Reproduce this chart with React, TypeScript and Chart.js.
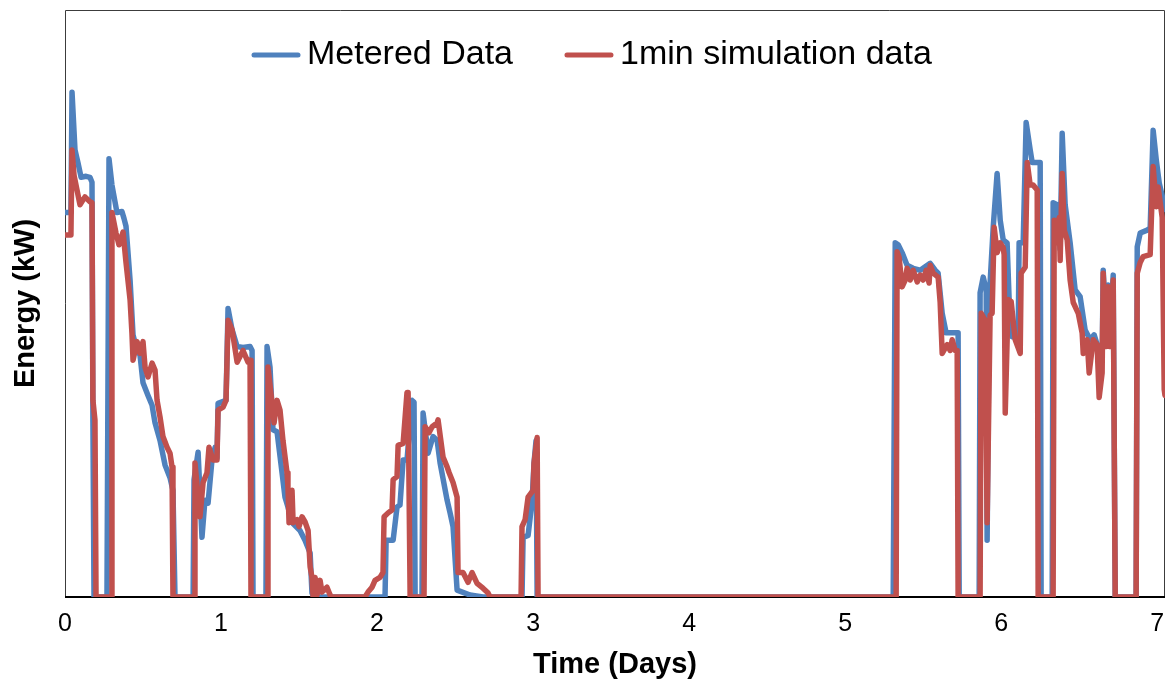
import React, { useEffect, useRef } from "react";
import { Chart, registerables } from "chart.js";

Chart.register(...registerables);

// Time in days, energy in kW
const meteredDays = [
  0, 0.038, 0.045, 0.064, 0.083, 0.103, 0.135, 0.16, 0.173, 0.179, 0.186,
  0.269, 0.282, 0.301, 0.333, 0.365, 0.378, 0.391, 0.417, 0.436, 0.455, 0.481, 0.5, 0.532, 0.558, 0.577, 0.609, 0.641, 0.673, 0.692, 0.705,
  0.821, 0.827, 0.853, 0.878, 0.897, 0.917, 0.942, 0.962, 0.974, 0.981, 1.032, 1.045, 1.071, 1.103, 1.141, 1.186, 1.199, 1.205,
  1.288, 1.295, 1.314, 1.333, 1.359, 1.391, 1.41, 1.429, 1.455, 1.506, 1.538, 1.571, 1.583, 1.596,
  2.051, 2.058, 2.103, 2.128, 2.147, 2.167, 2.192, 2.224, 2.237, 2.244,
  2.288, 2.295, 2.327, 2.359, 2.385, 2.404, 2.449, 2.468, 2.487, 2.513, 2.596, 2.679,
  2.929, 2.936, 2.968, 2.994, 3.006, 3.019, 3.026,
  5.308, 5.321, 5.34, 5.365, 5.397, 5.436, 5.481, 5.545, 5.577, 5.596, 5.622, 5.647, 5.724, 5.731,
  5.859, 5.865, 5.885, 5.904, 5.91, 5.923, 5.949, 5.974, 5.994, 6.013, 6.038, 6.051, 6.071, 6.109, 6.115, 6.141, 6.16, 6.186, 6.199, 6.25, 6.256,
  6.327, 6.333, 6.359, 6.378, 6.391, 6.41, 6.442, 6.474, 6.506, 6.538, 6.571, 6.596, 6.615, 6.628, 6.647, 6.654, 6.673, 6.686, 6.699, 6.718, 6.731,
  6.865, 6.872, 6.891, 6.936, 6.955, 6.974, 6.994, 7.013, 7.038, 7.05,
];
const meteredKW = [
  3.93, 3.93, 5.16, 4.57, 4.44, 4.29, 4.3, 4.29, 4.24, 1.78, 0,
  0, 4.48, 4.21, 3.93, 3.94, 3.87, 3.79, 3.24, 2.68, 2.56, 2.47, 2.19, 2.06, 1.96, 1.78, 1.6, 1.35, 1.22, 1.09, 0,
  0, 1.2, 1.48, 0.61, 0.99, 0.96, 1.4, 1.53, 1.42, 1.98, 2.01, 2.95, 2.73, 2.56, 2.55, 2.56, 2.52, 0,
  0, 2.56, 2.35, 1.71, 1.69, 1.27, 1.02, 0.92, 0.76, 0.68, 0.58, 0.45, 0.04, 0,
  0, 0.58, 0.58, 0.92, 0.94, 1.4, 1.4, 2.01, 1.99, 0,
  0, 1.88, 1.47, 1.64, 1.6, 1.37, 0.99, 0.86, 0.72, 0.07, 0.02, 0,
  0, 0.61, 0.63, 0.99, 1.37, 1.6, 0,
  0, 3.62, 3.6, 3.52, 3.39, 3.36, 3.34, 3.41, 3.34, 3.31, 2.9, 2.7, 2.7, 0,
  0, 3.11, 3.27, 3.14, 0.58, 3.04, 3.78, 4.33, 3.85, 3.65, 3.62, 3.04, 2.66, 2.65, 3.62, 3.62, 4.85, 4.57, 4.44, 4.44, 0,
  0, 4.03, 4.01, 3.55, 4.74, 4.01, 3.62, 3.14, 3.07, 2.73, 2.63, 2.68, 2.58, 2.32, 2.42, 3.34, 2.73, 3.19, 2.73, 3.29, 0,
  0, 3.58, 3.72, 3.75, 3.77, 4.77, 4.47, 4.23, 4.06, 3.96,
];

const simDays = [
  0, 0.038, 0.045, 0.058, 0.077, 0.096, 0.128, 0.16, 0.173, 0.179, 0.192, 0.199,
  0.295, 0.301, 0.327, 0.346, 0.372, 0.391, 0.417, 0.429, 0.436, 0.462, 0.481, 0.5, 0.513, 0.532, 0.558, 0.577, 0.59, 0.609, 0.628, 0.654, 0.673, 0.686, 0.692,
  0.827, 0.833, 0.865, 0.885, 0.91, 0.923, 0.949, 0.974, 0.981, 1.013, 1.032, 1.045, 1.071, 1.103, 1.141, 1.173, 1.186, 1.192,
  1.295, 1.301, 1.327, 1.34, 1.359, 1.378, 1.397, 1.423, 1.429, 1.436, 1.455, 1.462, 1.487, 1.5, 1.519, 1.538, 1.558, 1.571, 1.583, 1.59, 1.603, 1.615, 1.635, 1.647, 1.679, 1.699, 1.705,
  1.923, 1.942, 1.968, 1.987, 2.019, 2.038, 2.045, 2.071, 2.096, 2.103, 2.128, 2.135, 2.167, 2.192, 2.199, 2.212,
  2.301, 2.308, 2.333, 2.353, 2.385, 2.391, 2.423, 2.449, 2.462, 2.487, 2.513, 2.519, 2.551, 2.583, 2.609, 2.641, 2.679, 2.712, 2.724,
  2.923, 2.929, 2.949, 2.968, 3.0, 3.006, 3.026, 3.032,
  5.327, 5.333, 5.346, 5.365, 5.385, 5.397, 5.417, 5.436, 5.462, 5.481, 5.5, 5.519, 5.538, 5.545, 5.564, 5.596, 5.609, 5.622, 5.654, 5.673, 5.686, 5.705, 5.718, 5.724,
  5.865, 5.872, 5.897, 5.91, 5.929, 5.942, 5.955, 5.974, 5.994, 6.013, 6.019, 6.026, 6.045, 6.064, 6.09, 6.122, 6.128, 6.154, 6.167, 6.186, 6.205, 6.231, 6.237,
  6.333, 6.34, 6.359, 6.372, 6.378, 6.391, 6.404, 6.423, 6.442, 6.462, 6.494, 6.519, 6.526, 6.551, 6.564, 6.59, 6.615, 6.628, 6.647, 6.654, 6.673, 6.686, 6.699, 6.718, 6.731,
  6.865, 6.872, 6.891, 6.91, 6.955, 6.974, 6.994, 7.006, 7.032, 7.045, 7.05,
];
const simKW = [
  3.7, 3.7, 4.57, 4.31, 4.16, 4.01, 4.09, 4.04, 4.03, 2.01, 1.81, 0,
  0, 3.93, 3.72, 3.6, 3.73, 3.42, 3.04, 2.7, 2.42, 2.61, 2.49, 2.61, 2.35, 2.25, 2.39, 2.32, 2.01, 1.84, 1.64, 1.53, 1.47, 1.33, 0,
  0, 1.37, 0.82, 1.17, 1.27, 1.53, 1.4, 1.4, 1.91, 1.94, 2.01, 2.83, 2.73, 2.4, 2.52, 2.4, 2.42, 0,
  0, 2.35, 1.98, 1.78, 2.01, 1.91, 1.6, 1.27, 1.12, 0.76, 1.09, 0.76, 0.79, 0.72, 0.82, 0.77, 0.68, 0.31, 0.2, 0, 0.2, 0.02, 0.17, 0.05, 0.1, 0.02, 0,
  0, 0.05, 0.1, 0.17, 0.2, 0.25, 0.82, 0.86, 0.89, 1.2, 1.23, 1.55, 1.57, 2.09, 2.09, 0,
  0, 1.74, 1.68, 1.74, 1.78, 1.81, 1.43, 1.33, 1.27, 1.17, 1.02, 0.25, 0.25, 0.15, 0.25, 0.14, 0.09, 0.04, 0,
  0, 0.72, 0.79, 1.02, 1.09, 1.37, 1.63, 0,
  0, 3.53, 3.47, 3.17, 3.24, 3.36, 3.24, 3.34, 3.22, 3.29, 3.24, 3.34, 3.21, 3.39, 3.31, 3.27, 3.01, 2.49, 2.58, 2.52, 2.63, 2.52, 2.52, 0,
  0, 2.9, 2.83, 0.76, 2.88, 2.9, 3.78, 3.52, 3.62, 3.57, 3.5, 1.88, 3.04, 3.02, 2.63, 2.49, 3.31, 3.37, 4.44, 4.21, 4.21, 4.16, 0,
  0, 3.85, 3.62, 3.88, 3.44, 4.33, 3.75, 3.65, 3.24, 3.01, 2.9, 2.7, 2.49, 2.63, 2.29, 2.63, 2.58, 2.04, 2.29, 3.31, 2.56, 3.17, 2.56, 3.24, 0,
  0, 3.31, 3.42, 3.48, 3.5, 4.4, 3.99, 4.19, 3.88, 2.12, 2.06,
];

const xTickValues = [0, 1, 2, 3, 4, 5, 6, 7];
const seriesNames = ["Metered Data", "1min simulation data"];
const seriesColors = ["#4F81BD", "#C0504D"];
const xTitle = "Time (Days)";
const yTitle = "Energy (kW)";

const FONT = "'Liberation Sans', Arial, Helvetica, sans-serif";

export default function App() {
  const ref = useRef<HTMLCanvasElement>(null);

  useEffect(() => {
    if (!ref.current) return;

    const framePlugin = {
      id: "plotFrame",
      beforeDatasetsDraw(chart: any) {
        const { ctx, chartArea: a } = chart;
        ctx.save();
        ctx.strokeStyle = "#3c3c3c";
        ctx.lineWidth = 1;
        ctx.beginPath();
        ctx.moveTo(a.left + 0.5, a.bottom);
        ctx.lineTo(a.left + 0.5, a.top + 0.5);
        ctx.lineTo(a.right - 0.5, a.top + 0.5);
        ctx.lineTo(a.right - 0.5, a.bottom);
        ctx.stroke();
        ctx.strokeStyle = "#000";
        ctx.lineWidth = 2;
        ctx.beginPath();
        ctx.moveTo(a.left, a.bottom);
        ctx.lineTo(a.right, a.bottom);
        ctx.stroke();
        ctx.restore();
      },
    };

    const legendPlugin = {
      id: "insideLegend",
      afterDraw(chart: any) {
        const { ctx, chartArea: a } = chart;
        ctx.save();
        ctx.font = `34px ${FONT}`;
        ctx.textBaseline = "middle";
        ctx.textAlign = "left";
        const y = a.top + 45;
        let x = a.left + 187;
        seriesNames.forEach((name, i) => {
          ctx.strokeStyle = seriesColors[i];
          ctx.lineWidth = 5;
          ctx.lineCap = "round";
          ctx.beginPath();
          ctx.moveTo(x + 2, y);
          ctx.lineTo(x + 46, y);
          ctx.stroke();
          ctx.fillStyle = "#000";
          ctx.fillText(name, x + 55, y);
          x += 55 + ctx.measureText(name).width + 52;
        });
        ctx.restore();
      },
    };

    const chart = new Chart(ref.current, {
      type: "line",
      data: {
        datasets: [
          {
            label: seriesNames[0],
            data: meteredDays.map((d, i) => ({ x: d, y: meteredKW[i] })),
            borderColor: seriesColors[0],
            backgroundColor: seriesColors[0],
            borderWidth: 5.5,
            pointRadius: 0,
            tension: 0,
            borderJoinStyle: "round",
            borderCapStyle: "round",
            order: 2,
          },
          {
            label: seriesNames[1],
            data: simDays.map((d, i) => ({ x: d, y: simKW[i] })),
            borderColor: seriesColors[1],
            backgroundColor: seriesColors[1],
            borderWidth: 5.5,
            pointRadius: 0,
            tension: 0,
            borderJoinStyle: "round",
            borderCapStyle: "round",
            order: 1,
          },
        ],
      },
      options: {
        responsive: false,
        animation: false,
        devicePixelRatio: 1,
        layout: { padding: { top: 10, right: 1, bottom: 0, left: 0 } },
        plugins: {
          legend: { display: false },
          tooltip: { enabled: false },
        },
        scales: {
          x: {
            type: "linear",
            min: 0,
            max: 7.05,
            afterBuildTicks: (axis: any) => {
              axis.ticks = xTickValues.map((v) => ({ value: v }));
            },
            afterFit: (scale: any) => {
              scale.height = 87;
              scale.paddingLeft = 0;
              scale.paddingRight = 0;
            },
            grid: { display: false, drawTicks: false },
            border: { display: false },
            ticks: {
              color: "#000",
              padding: 12,
              maxRotation: 0,
              font: { family: FONT, size: 25 },
            },
            title: {
              display: true,
              text: xTitle,
              color: "#000",
              padding: { top: 0, bottom: 2 },
              font: { family: FONT, size: 29, weight: "bold" },
            },
          },
          y: {
            type: "linear",
            min: 0,
            max: 6,
            afterFit: (scale: any) => {
              scale.width = 65;
              scale.paddingTop = 0;
              scale.paddingBottom = 0;
            },
            grid: { display: false, drawTicks: false },
            border: { display: false },
            ticks: { display: false },
            title: {
              display: true,
              text: yTitle,
              color: "#000",
              padding: { top: 9, bottom: 0 },
              font: { family: FONT, size: 29, weight: "bold" },
            },
          },
        },
      },
      plugins: [framePlugin, legendPlugin],
    } as any);

    return () => chart.destroy();
  }, []);

  return (
    <div
      style={{
        position: "fixed",
        left: 0,
        top: 0,
        width: 1166,
        height: 684,
        background: "#fff",
      }}
    >
      <canvas ref={ref} width={1166} height={684} style={{ display: "block" }} />
    </div>
  );
}
